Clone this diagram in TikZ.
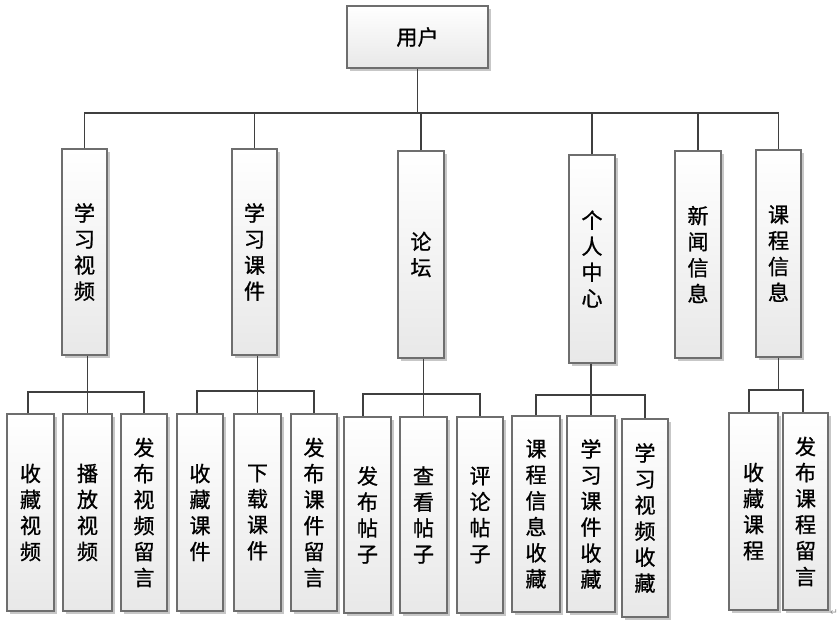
\documentclass[tikz,border=0pt]{standalone}
\usepackage{fontspec}
\setmainfont{Noto Sans CJK SC}[FakeBold=0.9]
\newfontfamily\symfont{DejaVu Sans}
\usetikzlibrary{shadows}
\definecolor{edgec}{HTML}{3F3F3F}
\definecolor{bordc}{HTML}{6E6E6E}
\tikzset{
  box/.style={draw=bordc, line width=0.8pt, top color=white, bottom color=black!9,
    drop shadow={shadow xshift=2pt, shadow yshift=-2pt, opacity=0.22, fill=black},
    inner sep=0pt, align=center, text=black,
    font=\fontsize{15.8pt}{19.5pt}\selectfont},
  link/.style={draw=edgec, line width=1.2pt},
}
\newcommand\bx[6]{\node[box, minimum width=#4*0.75pt, minimum height=#5*0.75pt] (#1) at (#2,#3) {#6};}
\begin{document}
\begin{tikzpicture}[x=0.75pt,y=-0.75pt]
\useasboundingbox (0,0) rectangle (840,620);
% top
\bx{u}{417.5}{37}{141}{62}{用户}
% second level
\bx{A}{84.5}{252}{45}{206}{学\\习\\视\\频}
\bx{B}{254.5}{252}{45}{206}{学\\习\\课\\件}
\bx{C}{421}{254.5}{46}{207}{论\\坛}
\bx{D}{592}{259}{46}{208}{个\\人\\中\\心}
\bx{E}{698}{254.5}{46}{207}{新\\闻\\信\\息}
\bx{F}{778.5}{253.5}{45}{207}{课\\程\\信\\息}
% third level
\bx{A1}{30.5}{512.5}{47}{197}{收\\藏\\视\\频}
\bx{A2}{87.5}{512.5}{49}{197}{播\\放\\视\\频}
\bx{A3}{144}{512.5}{46}{197}{发\\布\\视\\频\\留\\言}
\bx{B1}{200}{512.5}{46}{197}{收\\藏\\课\\件}
\bx{B2}{257.5}{512.5}{47}{197}{下\\载\\课\\件}
\bx{B3}{314}{512.5}{46}{197}{发\\布\\课\\件\\留\\言}
\bx{C1}{367.5}{515}{47}{196}{发\\布\\帖\\子}
\bx{C2}{423.5}{515}{47}{196}{查\\看\\帖\\子}
\bx{C3}{480}{515}{46}{196}{评\\论\\帖\\子}
\bx{D1}{536}{514}{48}{196}{课\\程\\信\\息\\收\\藏}
\bx{D2}{591}{514}{48}{196}{学\\习\\课\\件\\收\\藏}
\bx{D3}{645}{518}{46}{198}{学\\习\\视\\频\\收\\藏}
\bx{F1}{753.5}{511.5}{49}{197}{收\\藏\\课\\程}
\bx{F2}{805.5}{511.5}{45}{197}{发\\布\\课\\程\\留\\言}
\node[text=black!45, font=\symfont\fontsize{7pt}{7pt}\selectfont, inner sep=0pt] (pm) at (834,613) {↵};
% main bus
\coordinate (bus) at (0,113);
\draw[link] (u.south) -- (u.south |- bus);
\draw[link] (A.north) |- (F.north |- bus) -- (F.north);
\foreach \n in {B,C,D,E} \draw[link] (\n.north) -- (\n.north |- bus);
% sub buses
\coordinate (ba) at (0,392);
\draw[link] (A2.north |- A.south) -- (A2.north);
\draw[link] ([xshift=-1.9pt]A1.north) |- (A2.north |- ba) -| (A3.north);
\coordinate (bb) at (0,391);
\draw[link] (B2.north |- B.south) -- (B2.north);
\draw[link] ([xshift=-2.2pt]B1.north) |- (B2.north |- bb) -| (B3.north);
\coordinate (bc) at (0,394);
\draw[link] (C2.north |- C.south) -- (C2.north);
\draw[link] ([xshift=-3.4pt]C1.north) |- (C2.north |- bc) -| (C3.north);
\coordinate (bd) at (0,395);
\draw[link] (D2.north |- D.south) -- (D2.north);
\draw[link] (D1.north) |- (D2.north |- bd) -| (D3.north);
\coordinate (bf) at (0,390);
\draw[link] (F.south) -- (F.south |- bf);
\draw[link] ([xshift=-3.4pt]F1.north) |- (F.south |- bf) -| ([xshift=-1.8pt]F2.north);
\end{tikzpicture}
\end{document}
